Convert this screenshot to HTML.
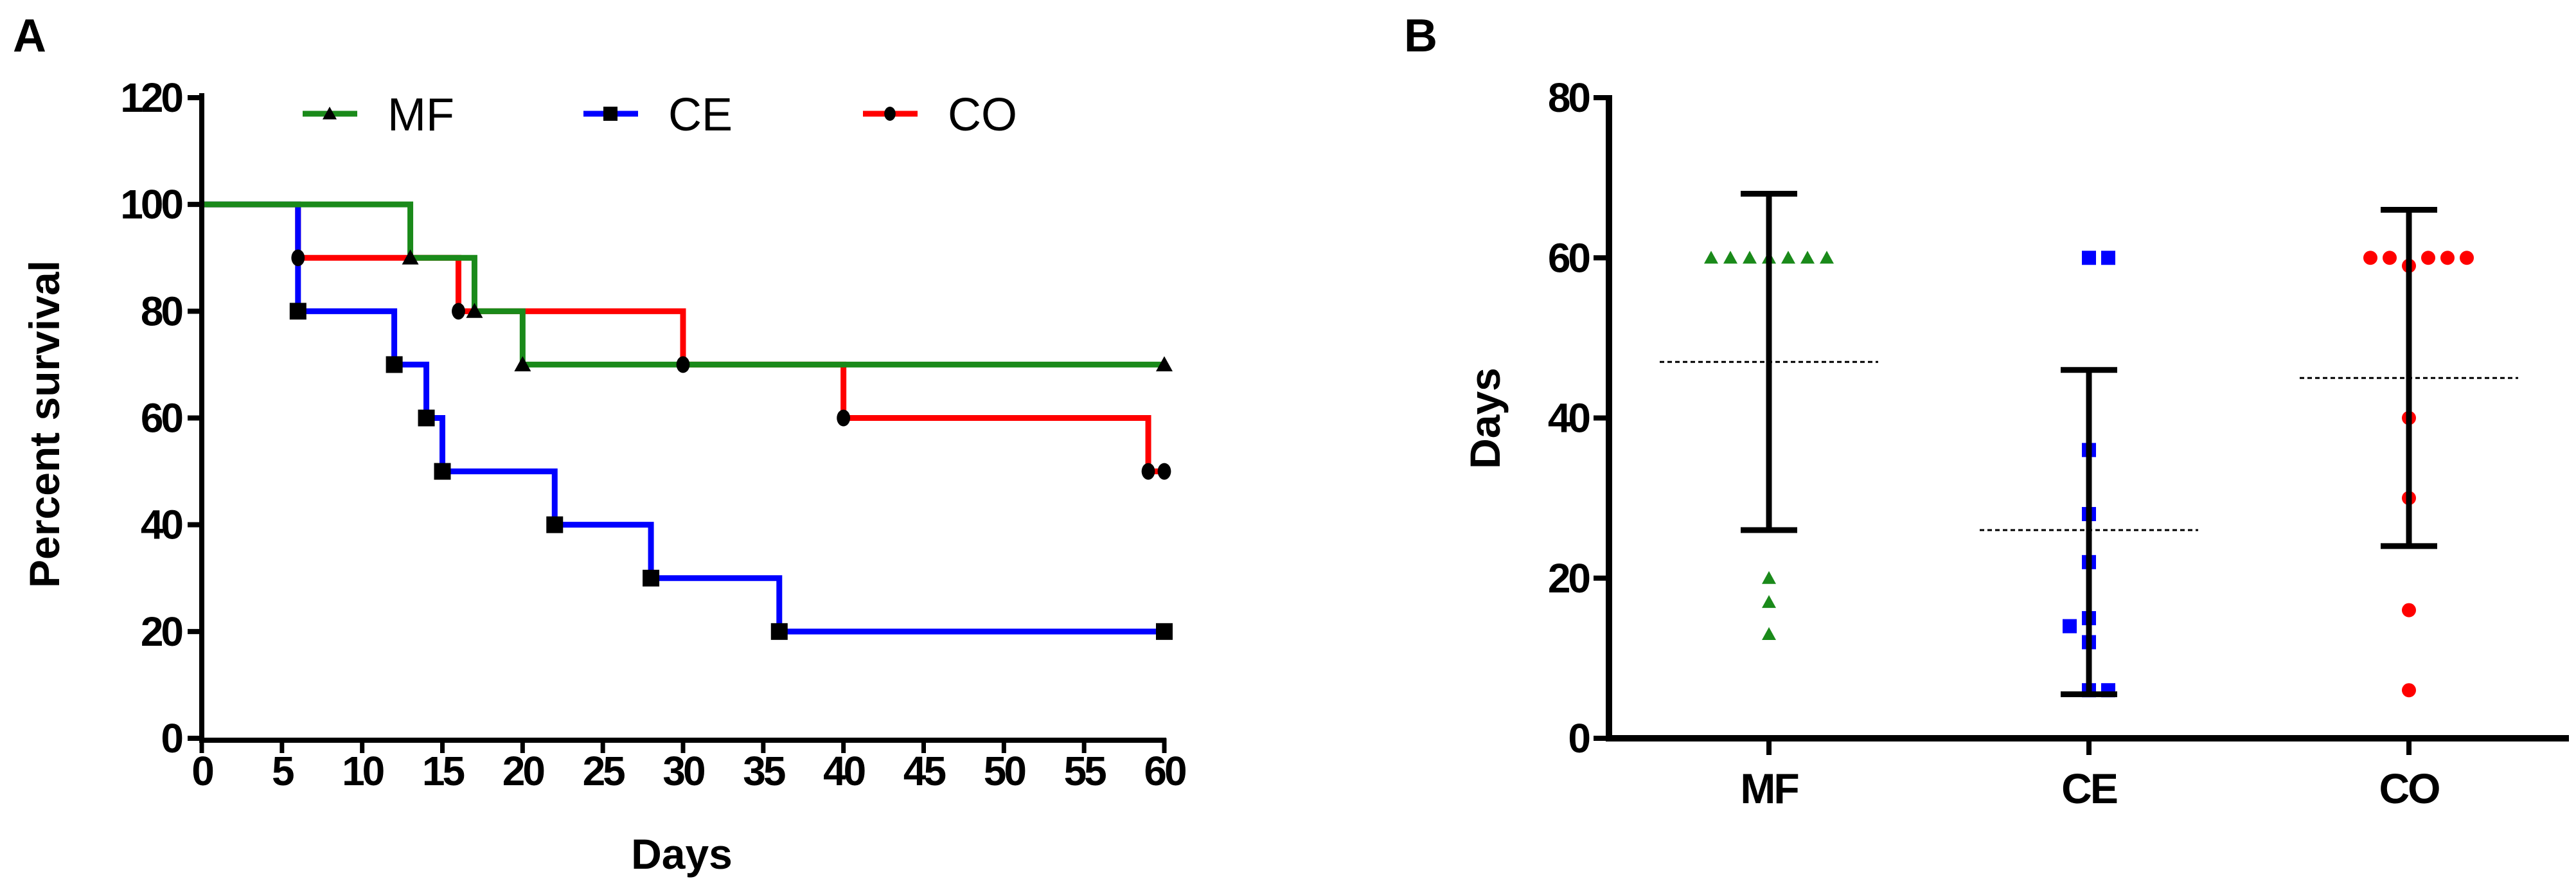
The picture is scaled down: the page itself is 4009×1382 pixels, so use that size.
<!DOCTYPE html>
<html><head><meta charset="utf-8"><style>
html,body{margin:0;padding:0;background:#fff;}
svg{display:block;font-family:"Liberation Sans",sans-serif;}
</style></head><body>
<svg id="chart" width="4009" height="1382" viewBox="0 0 4009 1382" xmlns="http://www.w3.org/2000/svg">
<text x="20" y="80" font-size="72" font-weight="bold">A</text>
<text x="2185" y="80" font-size="72" font-weight="bold">B</text>
<g id="pa"></g>
<g id="pb"></g>
</svg>
<script>
// Panel A data
const aXTicks = [0,5,10,15,20,25,30,35,40,45,50,55,60];
const aYTicks = [0,20,40,60,80,100,120];
const mfTimes = [0,13,17,20,60];
const mfSurv  = [100,90,80,70,70];
const ceTimes = [0,6,12,14,15,22,28,36,60];
const ceSurv  = [100,80,70,60,50,40,30,20,20];
const coTimes = [0,6,16,30,40,59,60];
const coSurv  = [100,90,80,70,60,50,50];
// Panel B data
const bCats = ["MF","CE","CO"];
const bYTicks = [0,20,40,60,80];
const mfDays = [60,60,60,60,60,60,60,20,17,13];
const mfOff  = [-3,-2,-1,0,1,2,3,0,0,0];
const ceDays = [60,60,36,28,22,15,14,12,6,6];
const ceOff  = [0,1,0,0,0,0,-1,0,0,1];
const coDays = [60,60,59,60,60,60,40,30,16,6];
const coOff  = [-2,-1,0,1,2,3,0,0,0,0];
const bMean = [47,26,45];
const bLow  = [26,5.5,24];
const bHigh = [68,46,66];

const NS="http://www.w3.org/2000/svg";
function mk(parent,tag,attrs){const e=document.createElementNS(NS,tag);for(const k in attrs)e.setAttribute(k,attrs[k]);parent.appendChild(e);return e;}

// ---- Panel A
const pa=document.getElementById('pa');
const ax=v=>314+v*(1812-314)/60;
const ay=v=>1149-v*(1149-152)/120;
function stepPath(t,s){let d=`M${ax(t[0])},${ay(s[0])}`;for(let i=1;i<t.length;i++){d+=` H${ax(t[i])} V${ay(s[i])}`;}return d;}
const series=[{t:mfTimes,s:mfSurv,c:"#1a8a1a",m:"tri",n:"mf"},{t:ceTimes,s:ceSurv,c:"#0000ff",m:"sq",n:"ce"},{t:coTimes,s:coSurv,c:"#ff0000",m:"dot",n:"co"}];
function marker(g,type,x,y,r){
  if(type==="tri") return mk(g,'polygon',{points:`${x},${y-r} ${x-r},${y+r*0.8} ${x+r},${y+r*0.8}`,fill:"#000"});
  if(type==="sq") return mk(g,'rect',{x:x-r,y:y-r,width:2*r,height:2*r,fill:"#000"});
  return mk(g,'ellipse',{cx:x,cy:y,rx:r*0.8,ry:r,fill:"#000"});
}
[series[2],series[1],series[0]].forEach(S=>{
  const p=mk(pa,'path',{d:stepPath(S.t,S.s),fill:"none",stroke:S.c,"stroke-width":9});
  
  
});
[series[2],series[1],series[0]].forEach(S=>{
  for(let i=1;i<S.t.length;i++){
    const m=marker(pa,S.m,ax(S.t[i]),ay(S.s[i]),13);
    
    
  }
});
mk(pa,'path',{d:`M314,145 V1152 H1815`,fill:"none",stroke:"#000","stroke-width":8});
aYTicks.forEach(v=>{
  mk(pa,'line',{x1:292,x2:314,y1:ay(v),y2:ay(v),stroke:"#000","stroke-width":8});
  const t=mk(pa,'text',{x:282,y:ay(v)+22,"text-anchor":"end","font-size":64,"font-weight":"bold","letter-spacing":"-4"});t.textContent=v;
  
  
});
aXTicks.forEach(v=>{
  mk(pa,'line',{x1:ax(v),x2:ax(v),y1:1149,y2:1172,stroke:"#000","stroke-width":7});
  const t=mk(pa,'text',{x:ax(v),y:1222,"text-anchor":"middle","font-size":64,"font-weight":"bold","letter-spacing":"-4"});t.textContent=v;
  
  
});
let t=mk(pa,'text',{x:1061,y:1352,"text-anchor":"middle","font-size":66,"font-weight":"bold"});t.textContent="Days";

t=mk(pa,'text',{x:0,y:0,transform:"translate(92,660) rotate(-90)","text-anchor":"middle","font-size":66,"font-weight":"bold"});t.textContent="Percent survival";

[[471,"MF","tri","#1a8a1a"],[908,"CE","sq","#0000ff"],[1343,"CO","dot","#ff0000"]].forEach(L=>{
  const g=mk(pa,'g',{});
  
  
  mk(g,'line',{x1:L[0],x2:L[0]+85,y1:177,y2:177,stroke:L[3],"stroke-width":9});
  marker(g,L[2],L[0]+42,177,11);
  const tx=mk(g,'text',{x:L[0]+132,y:203,"font-size":72});tx.textContent=L[1];
});

// ---- Panel B
const pb=document.getElementById('pb');
const bx=i=>2753+i*498;
const by=v=>1149-v*(1149-152)/80;
const sp=30;
mk(pb,'path',{d:`M2504,148 V1149 H3998`,fill:"none",stroke:"#000","stroke-width":10});
bYTicks.forEach(v=>{
  mk(pb,'line',{x1:2480,x2:2504,y1:by(v),y2:by(v),stroke:"#000","stroke-width":8});
  const tx=mk(pb,'text',{x:2472,y:by(v)+22,"text-anchor":"end","font-size":64,"font-weight":"bold","letter-spacing":"-4"});tx.textContent=v;
  
});
bCats.forEach((c,i)=>{
  mk(pb,'line',{x1:bx(i),x2:bx(i),y1:1149,y2:1175,stroke:"#000","stroke-width":8});
  const tx=mk(pb,'text',{x:bx(i),y:1250,"text-anchor":"middle","font-size":66,"font-weight":"bold","letter-spacing":"-3"});tx.textContent=c;
  
});
t=mk(pb,'text',{x:0,y:0,transform:"translate(2334,651) rotate(-90)","text-anchor":"middle","font-size":66,"font-weight":"bold"});t.textContent="Days";

const groups=[{d:mfDays,o:mfOff,c:"#1a8a1a",m:"tri"},{d:ceDays,o:ceOff,c:"#0000ff",m:"sq"},{d:coDays,o:coOff,c:"#ff0000",m:"dot"}];
groups.forEach((G,i)=>{
  const x=bx(i);
  const ml=mk(pb,'line',{x1:x-170,x2:x+170,y1:by(bMean[i]),y2:by(bMean[i]),stroke:"#000","stroke-width":3,"stroke-dasharray":"7,5"});
  
  G.d.forEach((v,k)=>{
    const px=x+G.o[k]*sp, py=by(v);
    let m;
    if(G.m==="tri") m=mk(pb,'polygon',{points:`${px},${py-11} ${px-11},${py+9} ${px+11},${py+9}`,fill:G.c});
    else if(G.m==="sq") m=mk(pb,'rect',{x:px-11,y:py-11,width:22,height:22,fill:G.c});
    else m=mk(pb,'circle',{cx:px,cy:py,r:11,fill:G.c});
    
    
  });
  const eg=mk(pb,'g',{stroke:"#000","stroke-width":9});
  
  
  mk(eg,'line',{x1:x,x2:x,y1:by(bHigh[i]),y2:by(bLow[i])});
  mk(eg,'line',{x1:x-44,x2:x+44,y1:by(bHigh[i]),y2:by(bHigh[i])});
  mk(eg,'line',{x1:x-44,x2:x+44,y1:by(bLow[i]),y2:by(bLow[i])});
});
</script>
</body></html>
